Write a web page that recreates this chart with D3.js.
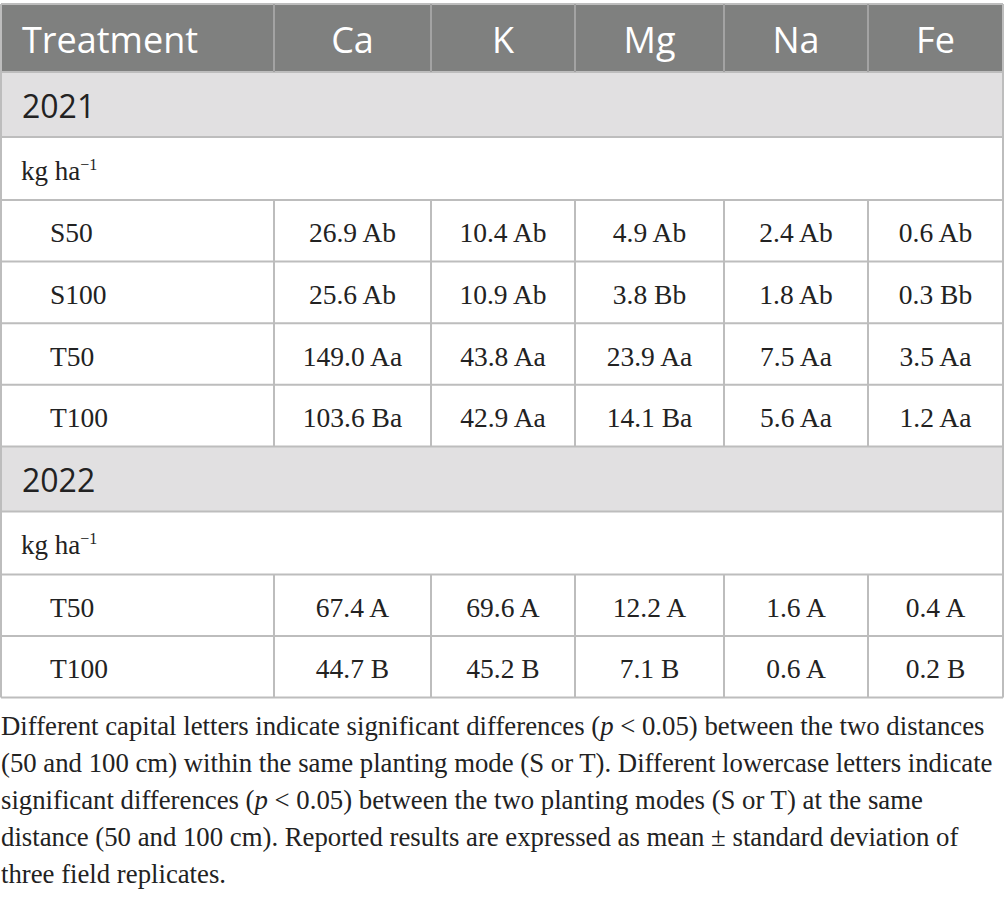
<!DOCTYPE html>
<html>
<head>
<meta charset="utf-8">
<script src="https://cdn.jsdelivr.net/npm/d3@7"></script>
<style>
  body { margin: 0; background: #fff; }
  svg { display: block; }
</style>
</head>
<body>
<div id="chart"></div>
<script>
// ---- Data ----
const columns = ['Treatment', 'Ca', 'K', 'Mg', 'Na', 'Fe'];
const years = ['2021', '2022'];

const treatments2021 = ['S50', 'S100', 'T50', 'T100'];
const ca2021 = [26.9, 25.6, 149.0, 103.6];
const k2021  = [10.4, 10.9, 43.8, 42.9];
const mg2021 = [4.9, 3.8, 23.9, 14.1];
const na2021 = [2.4, 1.8, 7.5, 5.6];
const fe2021 = [0.6, 0.3, 3.5, 1.2];
const caLetters2021 = ['Ab', 'Ab', 'Aa', 'Ba'];
const kLetters2021  = ['Ab', 'Ab', 'Aa', 'Aa'];
const mgLetters2021 = ['Ab', 'Bb', 'Aa', 'Ba'];
const naLetters2021 = ['Ab', 'Ab', 'Aa', 'Aa'];
const feLetters2021 = ['Ab', 'Bb', 'Aa', 'Aa'];

const treatments2022 = ['T50', 'T100'];
const ca2022 = [67.4, 44.7];
const k2022  = [69.6, 45.2];
const mg2022 = [12.2, 7.1];
const na2022 = [1.6, 0.6];
const fe2022 = [0.4, 0.2];
const caLetters2022 = ['A', 'B'];
const kLetters2022  = ['A', 'B'];
const mgLetters2022 = ['A', 'B'];
const naLetters2022 = ['A', 'A'];
const feLetters2022 = ['A', 'B'];

const footnoteLines = [
    ['Different capital letters indicate significant differences (', {i: 'p'}, ' < 0.05) between the two distances'],
    ['(50 and 100 cm) within the same planting mode (S or T). Different lowercase letters indicate'],
    ['significant differences (', {i: 'p'}, ' < 0.05) between the two planting modes (S or T) at the same'],
    ['distance (50 and 100 cm). Reported results are expressed as mean \u00b1 standard deviation of'],
    ['three field replicates.']
];

// ---- Layout ----
const W = 1005, H = 898;
const colEdges = [1, 274, 431, 575, 724, 868, 1003];
const rowHeight = { header: 68, year: 65, unit: 63, data: 61.6 };
const baseOffset = { header: 15, year: 13.5, unit: 11.5, data: 11.5 };
const lineColor = '#bdbdbd';
const fmt = d3.format('.1f');

// build rows
function dataRows(names, cols, letters) {
    return names.map((n, i) => ({
        type: 'data',
        label: n,
        cells: cols.map((c, j) => fmt(c[i]) + ' ' + letters[j][i])
    }));
}
const rows = [
    { type: 'header' },
    { type: 'year', label: years[0] },
    { type: 'unit' },
    ...dataRows(treatments2021, [ca2021, k2021, mg2021, na2021, fe2021],
        [caLetters2021, kLetters2021, mgLetters2021, naLetters2021, feLetters2021]),
    { type: 'year', label: years[1] },
    { type: 'unit' },
    ...dataRows(treatments2022, [ca2022, k2022, mg2022, na2022, fe2022],
        [caLetters2022, kLetters2022, mgLetters2022, naLetters2022, feLetters2022])
];
const top0 = 4;
const rowTops = [top0, ...d3.cumsum(rows, r => rowHeight[r.type]).map(v => v + top0)];
rows.forEach((r, i) => { r.y0 = rowTops[i]; r.y1 = rowTops[i + 1]; });
const tableBottom = rowTops[rowTops.length - 1];

const colLeft = d3.scaleOrdinal(columns, colEdges.slice(0, -1));
const colRight = d3.scaleOrdinal(columns, colEdges.slice(1));
const colMid = c => (colLeft(c) + colRight(c)) / 2;

const svg = d3.select('#chart').append('svg')
    .attr('width', W)
    .attr('height', H);

// --- Row backgrounds ---
const bg = { header: '#7f807f', year: '#e1e0e1', unit: '#fff', data: '#fff' };
svg.selectAll('.rowbg')
    .data(rows)
    .enter().append('rect')
    .attr('x', colEdges[0])
    .attr('y', d => d.y0)
    .attr('width', colEdges[colEdges.length - 1] - colEdges[0])
    .attr('height', d => d.y1 - d.y0)
    .attr('fill', d => bg[d.type]);

// --- Grid lines ---
const grid = svg.append('g')
    .attr('stroke', lineColor)
    .attr('stroke-width', 2)
    .attr('fill', 'none');

grid.selectAll('.hline')
    .data(rowTops)
    .enter().append('line')
    .attr('x1', colEdges[0]).attr('x2', colEdges[colEdges.length - 1])
    .attr('y1', d => d).attr('y2', d => d);

// vertical separators only where cells are split
rows.filter(r => r.type === 'header' || r.type === 'data').forEach(r => {
    grid.selectAll(null)
        .data(colEdges.slice(1, -1))
        .enter().append('line')
        .attr('x1', d => d).attr('x2', d => d)
        .attr('y1', r.y0).attr('y2', r.y1)
        .attr('stroke', r.type === 'header' ? '#a3a3a3' : lineColor);
});
// outer left / right
grid.selectAll('.vouter')
    .data([colEdges[0], colEdges[colEdges.length - 1]])
    .enter().append('line')
    .attr('x1', d => d).attr('x2', d => d)
    .attr('y1', top0).attr('y2', tableBottom);

// --- Header text ---
const header = rows[0];
svg.selectAll('.head')
    .data(columns)
    .enter().append('text')
    .attr('x', (d, i) => i === 0 ? 22 : colMid(d))
    .attr('y', (header.y0 + header.y1) / 2 + baseOffset.header)
    .attr('text-anchor', (d, i) => i === 0 ? 'start' : 'middle')
    .attr('font-family', '"Open Sans", "Noto Sans", sans-serif')
    .attr('font-size', 36)
    .attr('fill', '#fff')
    .text(d => d);

// --- Year rows ---
svg.selectAll('.year')
    .data(rows.filter(r => r.type === 'year'))
    .enter().append('text')
    .attr('x', 22)
    .attr('y', d => (d.y0 + d.y1) / 2 + baseOffset.year)
    .attr('font-family', '"Open Sans", "Noto Sans", sans-serif')
    .attr('font-size', 32)
    .attr('fill', '#222')
    .text(d => d.label);

// --- Unit rows ---
const unit = svg.selectAll('.unit')
    .data(rows.filter(r => r.type === 'unit'))
    .enter().append('text')
    .attr('x', 21)
    .attr('y', d => (d.y0 + d.y1) / 2 + baseOffset.unit)
    .attr('font-family', '"Liberation Serif", "Times New Roman", serif')
    .attr('font-size', 27)
    .attr('fill', '#222');
unit.append('tspan').text('kg ha');
unit.append('tspan')
    .attr('dy', -10)
    .attr('font-size', 16)
    .text('\u22121');

// --- Data rows ---
const dataG = svg.selectAll('.drow')
    .data(rows.filter(r => r.type === 'data'))
    .enter().append('g')
    .attr('font-family', '"Liberation Serif", "Times New Roman", serif')
    .attr('font-size', 27.5)
    .attr('fill', '#222');

dataG.append('text')
    .attr('x', 50)
    .attr('y', d => (d.y0 + d.y1) / 2 + baseOffset.data)
    .text(d => d.label);

dataG.selectAll('.cell')
    .data(d => d.cells.map((v, j) => ({ v, col: columns[j + 1], row: d })))
    .enter().append('text')
    .attr('x', d => colMid(d.col))
    .attr('y', d => (d.row.y0 + d.row.y1) / 2 + baseOffset.data)
    .attr('text-anchor', 'middle')
    .text(d => d.v);

// --- Footnote ---
const noteTop = 735, noteStep = 37;
const note = svg.append('g')
    .attr('font-family', '"Liberation Serif", "Times New Roman", serif')
    .attr('font-size', 24)
    .attr('fill', '#222');

const noteTexts = note.selectAll('text')
    .data(footnoteLines)
    .enter().append('text')
    .attr('x', 1)
    .attr('y', (d, i) => noteTop + i * noteStep);

noteTexts.each(function (parts) {
    const t = d3.select(this);
    parts.forEach(p => {
        if (typeof p === 'string') t.append('tspan').text(p);
        else t.append('tspan').attr('font-style', 'italic').text(p.i);
    });
});

// fit the longest line to the reference width
const widest = noteTexts.nodes()[1].getComputedTextLength();
note.attr('font-size', 24 * 992 / widest);
</script>
</body>
</html>
